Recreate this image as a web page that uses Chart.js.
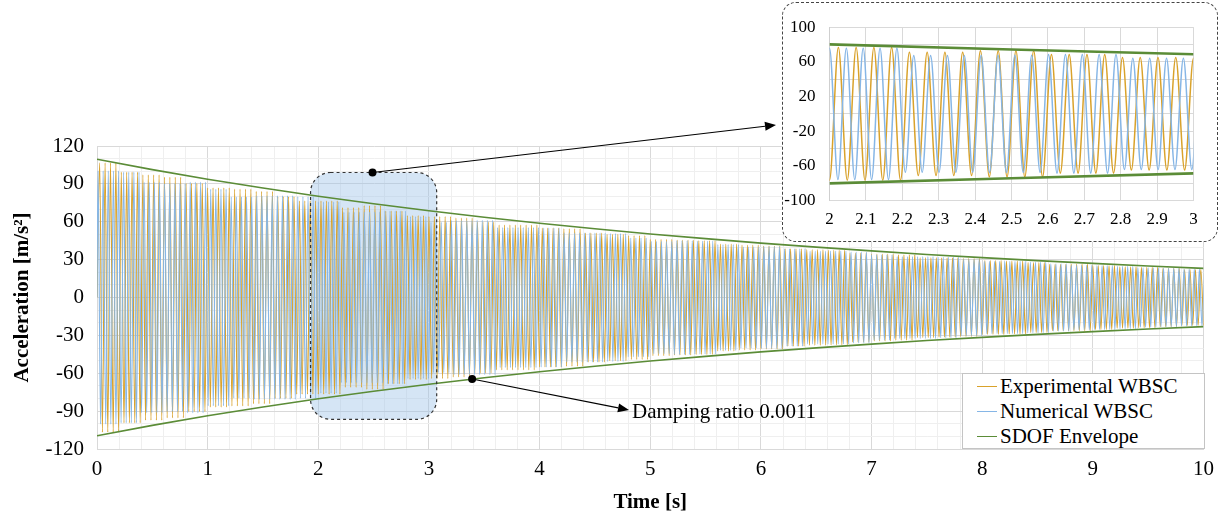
<!DOCTYPE html>
<html>
<head>
<meta charset="utf-8">
<script src="https://cdn.jsdelivr.net/npm/chart.js@4.4.1/dist/chart.umd.min.js"></script>
<style>
  html, body { margin: 0; padding: 0; background: #fff; }
  #wrap { position: relative; width: 1222px; height: 515px; overflow: hidden;
          font-family: "Liberation Serif", "Times New Roman", serif; color: #000; }
  #main { position: absolute; left: 0; top: 0; }
  #insetBox { position: absolute; left: 782px; top: 2px; width: 436px; height: 240px;
              box-sizing: border-box; border: 1.5px dashed #444; border-radius: 14px;
              background: #fff; overflow: hidden; }
  #inset { position: absolute; left: 0; top: 0; }
  #legend { position: absolute; left: 962px; top: 373px; width: 243px; height: 76px;
            box-sizing: border-box; border: 1px solid #c4c4c4; background: #fff;
            padding: 0 0 0 14px; font-size: 21px; }
  .row { height: 25px; display: flex; align-items: center; white-space: nowrap; }
  .sw { display: inline-block; width: 20px; height: 0; border-top: 1.5px solid; margin-right: 3px; }
  #note { position: absolute; left: 632px; top: 399px; font-size: 21px; line-height: 24px; white-space: nowrap; }
</style>
</head>
<body>
<div id="wrap">
  <canvas id="main" width="1222" height="515"></canvas>
  <div id="insetBox"><canvas id="inset" width="433" height="237"></canvas></div>
  <div id="note">Damping ratio 0.0011</div>
  <div id="legend">
    <div class="row"><span class="sw" style="border-color:#D9A22B"></span>Experimental WBSC</div>
    <div class="row"><span class="sw" style="border-color:#86B6E6"></span>Numerical WBSC</div>
    <div class="row"><span class="sw" style="border-color:#5B8C37"></span>SDOF Envelope</div>
  </div>
</div>
<script>
// ---- data ----
// SDOF envelope (upper), every 0.5 s from 0 to 10 s
const envelopeTime = [0, 0.5, 1, 1.5, 2, 2.5, 3, 3.5, 4, 4.5, 5, 5.5, 6, 6.5, 7, 7.5, 8, 8.5, 9, 9.5, 10];
const envelopeAmp = [109.5, 101.3, 93.7, 86.7, 80.2, 74.3, 68.7, 63.6, 58.8, 54.4, 50.3,
                     46.6, 43.1, 39.9, 36.9, 34.1, 31.6, 29.2, 27.0, 25.0, 23.1];

// peak amplitude of each record, one value per 0.2 s window (0-0.2, 0.2-0.4, ...)
const binWidth = 0.2;
const experimentalPeak = [
  106.7, 99.3, 97.2, 95.3, 90.4, 86.8, 85.9, 84.1, 79.9, 76.6,
  76.6, 71.2, 72.8, 68.4, 64.9, 64.2, 63.0, 59.8, 57.3, 57.3,
  55.0, 54.4, 51.1, 50.1, 49.1, 46.1, 45.6, 45.2, 42.4, 41.6,
  40.7, 38.6, 37.9, 37.5, 35.3, 34.5, 33.8, 31.7, 31.4, 30.8,
  29.2, 28.9, 27.7, 26.3, 26.4, 25.3, 24.3, 24.0, 23.1, 22.1
];
const numericalPeak = [
  100.3, 99.3, 91.2, 90.3, 91.4, 85.8, 79.7, 80.6, 80.7, 79.9,
  75.8, 67.4, 67.6, 68.4, 64.2, 59.5, 61.0, 61.1, 55.4, 55.5,
  55.0, 51.1, 51.1, 50.6, 47.0, 44.6, 45.1, 44.7, 41.9, 39.9,
  40.3, 38.6, 36.7, 36.8, 36.0, 33.8, 32.4, 32.4, 31.8, 30.2,
  28.6, 28.6, 28.0, 26.6, 25.6, 25.3, 24.8, 23.5, 23.1, 22.6
];

// cycles per second counted in the 2-3 s close-up, and where each record sits at t = 2 s
const experimentalFreq = 20.5;   // trough at 2.0 s
const numericalFreq = 21.6;      // crest at 2.0 s
const experimentalRef = { t: 2.0, sign: -1 };
const numericalRef = { t: 2.0, sign: 1 };

// tick labels
const timeLabels = ["0", "1", "2", "3", "4", "5", "6", "7", "8", "9", "10"];
const accelLabels = [-120, -90, -60, -30, 0, 30, 60, 90, 120];
const insetTimeLabels = ["2", "2.1", "2.2", "2.3", "2.4", "2.5", "2.6", "2.7", "2.8", "2.9", "3"];
const insetAccelLabels = [-100, -60, -20, 20, 60, 100];

// ---- styles ----
const GOLD = "#D9A22B";
const BLUE = "#86B6E6";
const GREEN = "#5B8C37";
const FONT = '"Liberation Serif", "Times New Roman", serif';
Chart.defaults.font.family = FONT;
Chart.defaults.color = "#000";

// crest/trough sequence of a record (one point per half cycle)
function buildRecord(peaks, freq, ref) {
  const half = 1 / (2 * freq);
  const pts = [{ x: 0, y: 0 }];
  const kStart = Math.ceil((0 - ref.t) / half);
  for (let k = kStart; ; k++) {
    const t = ref.t + k * half;
    if (t > 10 + half) break;
    if (t <= 0) continue;
    const bin = Math.min(peaks.length - 1, Math.floor(t / binWidth));
    const sign = (Math.abs(k % 2) === 0 ? 1 : -1) * ref.sign;
    pts.push({ x: t, y: sign * peaks[bin] });
  }
  return pts;
}

const experimental = buildRecord(experimentalPeak, experimentalFreq, experimentalRef);
const numerical = buildRecord(numericalPeak, numericalFreq, numericalRef);
const envUpper = envelopeTime.map((t, i) => ({ x: t, y: envelopeAmp[i] }));
const envLower = envelopeTime.map((t, i) => ({ x: t, y: -envelopeAmp[i] }));

const near = (a, b) => Math.abs(a - b) < 1e-6;

function datasets(lw, envW, from, to) {
  const cut = (arr) => arr.filter(p => p.x >= from && p.x <= to);
  return [
    { label: "SDOF Envelope", data: cut(envUpper), borderColor: GREEN, borderWidth: envW, order: 0 },
    { label: "SDOF Envelope", data: cut(envLower), borderColor: GREEN, borderWidth: envW, order: 0 },
    { label: "Numerical WBSC", data: cut(numerical), borderColor: BLUE, borderWidth: lw, order: 1,
      cubicInterpolationMode: "monotone" },
    { label: "Experimental WBSC", data: cut(experimental), borderColor: GOLD, borderWidth: lw, order: 2,
      cubicInterpolationMode: "monotone" },
  ];
}

// ---- annotation: shaded zoom window, dots and arrows ----
const zoomWindow = { t0: 1.93, t1: 3.07, top: 99, bottom: -96.5 };

function arrow(ctx, x0, y0, x1, y1) {
  const a = Math.atan2(y1 - y0, x1 - x0);
  const L = 11, W = 4.5;
  ctx.beginPath();
  ctx.moveTo(x0, y0);
  ctx.lineTo(x1 - L * Math.cos(a), y1 - L * Math.sin(a));
  ctx.stroke();
  ctx.beginPath();
  ctx.moveTo(x1, y1);
  ctx.lineTo(x1 - L * Math.cos(a) + W * Math.sin(a), y1 - L * Math.sin(a) - W * Math.cos(a));
  ctx.lineTo(x1 - L * Math.cos(a) - W * Math.sin(a), y1 - L * Math.sin(a) + W * Math.cos(a));
  ctx.closePath();
  ctx.fill();
}

function dot(ctx, x, y) {
  ctx.beginPath();
  ctx.arc(x, y, 4, 0, Math.PI * 2);
  ctx.fill();
}

const annotate = {
  id: "annotate",
  _box(chart) {
    const { x, y } = chart.scales;
    const l = x.getPixelForValue(zoomWindow.t0), r = x.getPixelForValue(zoomWindow.t1);
    const t = y.getPixelForValue(zoomWindow.top), b = y.getPixelForValue(zoomWindow.bottom);
    return { l, t, w: r - l, h: b - t };
  },
  beforeDatasetsDraw(chart) {
    const ctx = chart.ctx, bx = this._box(chart);
    ctx.save();
    ctx.fillStyle = "rgba(155,192,230,0.42)";
    ctx.beginPath();
    ctx.roundRect(bx.l, bx.t, bx.w, bx.h, 20);
    ctx.fill();
    ctx.restore();
  },
  afterDatasetsDraw(chart) {
    const ctx = chart.ctx, bx = this._box(chart);
    const { x, y } = chart.scales;
    ctx.save();
    ctx.strokeStyle = "#333";
    ctx.lineWidth = 1.2;
    ctx.setLineDash([3, 3]);
    ctx.beginPath();
    ctx.roundRect(bx.l, bx.t, bx.w, bx.h, 20);
    ctx.stroke();
    ctx.setLineDash([]);
    ctx.fillStyle = "#000";
    ctx.strokeStyle = "#000";
    ctx.lineWidth = 1.1;
    const d1 = { x: x.getPixelForValue(2.49), y: y.getPixelForValue(zoomWindow.top) };
    const d2 = { x: x.getPixelForValue(3.39), y: y.getPixelForValue(-64.5) };
    dot(ctx, d1.x, d1.y);
    dot(ctx, d2.x, d2.y);
    arrow(ctx, d1.x, d1.y, 776, 125);
    arrow(ctx, d2.x, d2.y, 629, 410);
    ctx.restore();
  }
};

const majorGrid = "#d9d9d9", minorGrid = "#efefef";

new Chart(document.getElementById("main"), {
  type: "line",
  data: { datasets: datasets(1.1, 1.6, 0, 10.2) },
  options: {
    responsive: false,
    animation: false,
    events: [],
    layout: { padding: { top: 146, right: 17, left: 0, bottom: 0 } },
    elements: { point: { radius: 0 }, line: { tension: 0 } },
    plugins: { legend: { display: false }, tooltip: { enabled: false } },
    scales: {
      x: {
        type: "linear", min: 0, max: 10,
        afterFit: (s) => { s.height = 66; },
        ticks: {
          stepSize: 0.2, autoSkip: false, maxRotation: 0, padding: 8,
          font: { size: 21 },
          callback: (v) => {
            const lab = timeLabels.find(l => near(Number(l), v));
            return lab === undefined ? "" : lab;
          }
        },
        grid: {
          drawTicks: false,
          color: (c) => (c.tick && Number.isInteger(Math.round(c.tick.value * 1e6) / 1e6)) ? majorGrid : minorGrid
        },
        border: { color: majorGrid },
        title: { display: true, text: "Time [s]", font: { size: 21, weight: "bold" }, padding: { top: 0, bottom: 0 } }
      },
      y: {
        type: "linear", min: -120, max: 120,
        afterFit: (s) => { s.width = 97; },
        ticks: {
          stepSize: 10, autoSkip: false, padding: 13,
          font: { size: 21 },
          callback: (v) => accelLabels.some(l => near(l, v)) ? String(Math.round(v)) : ""
        },
        grid: {
          drawTicks: false,
          color: (c) => (c.tick && accelLabels.some(l => near(l, c.tick.value))) ? majorGrid : minorGrid
        },
        border: { color: majorGrid },
        title: { display: true, text: "Acceleration [m/s²]", font: { size: 21, weight: "bold" }, padding: { top: 10, bottom: 0 } }
      }
    }
  },
  plugins: [annotate]
});

// ---- close-up 2-3 s ----
new Chart(document.getElementById("inset"), {
  type: "line",
  data: { datasets: datasets(1.5, 2.6, 1.9, 3.1) },
  options: {
    responsive: false,
    animation: false,
    events: [],
    layout: { padding: { top: 20.5, right: 22.5, left: 0, bottom: 0 } },
    elements: { point: { radius: 0 }, line: { tension: 0 } },
    plugins: { legend: { display: false }, tooltip: { enabled: false } },
    scales: {
      x: {
        type: "linear", min: 2, max: 3,
        afterFit: (s) => { s.height = 39.5; },
        ticks: {
          stepSize: 0.1, autoSkip: false, maxRotation: 0, padding: 9,
          font: { size: 17 },
          callback: (v) => {
            const lab = insetTimeLabels.find(l => near(Number(l), v));
            return lab === undefined ? "" : lab;
          }
        },
        grid: { drawTicks: false, color: majorGrid },
        border: { color: majorGrid }
      },
      y: {
        type: "linear", min: -100, max: 100,
        afterFit: (s) => { s.width = 46.5; },
        ticks: {
          stepSize: 20, autoSkip: false, padding: 14,
          font: { size: 17 },
          callback: (v) => insetAccelLabels.some(l => near(l, v)) ? String(Math.round(v)) : ""
        },
        grid: { drawTicks: false, color: majorGrid },
        border: { color: "#cfcfcf" }
      }
    }
  }
});
</script>
</body>
</html>
